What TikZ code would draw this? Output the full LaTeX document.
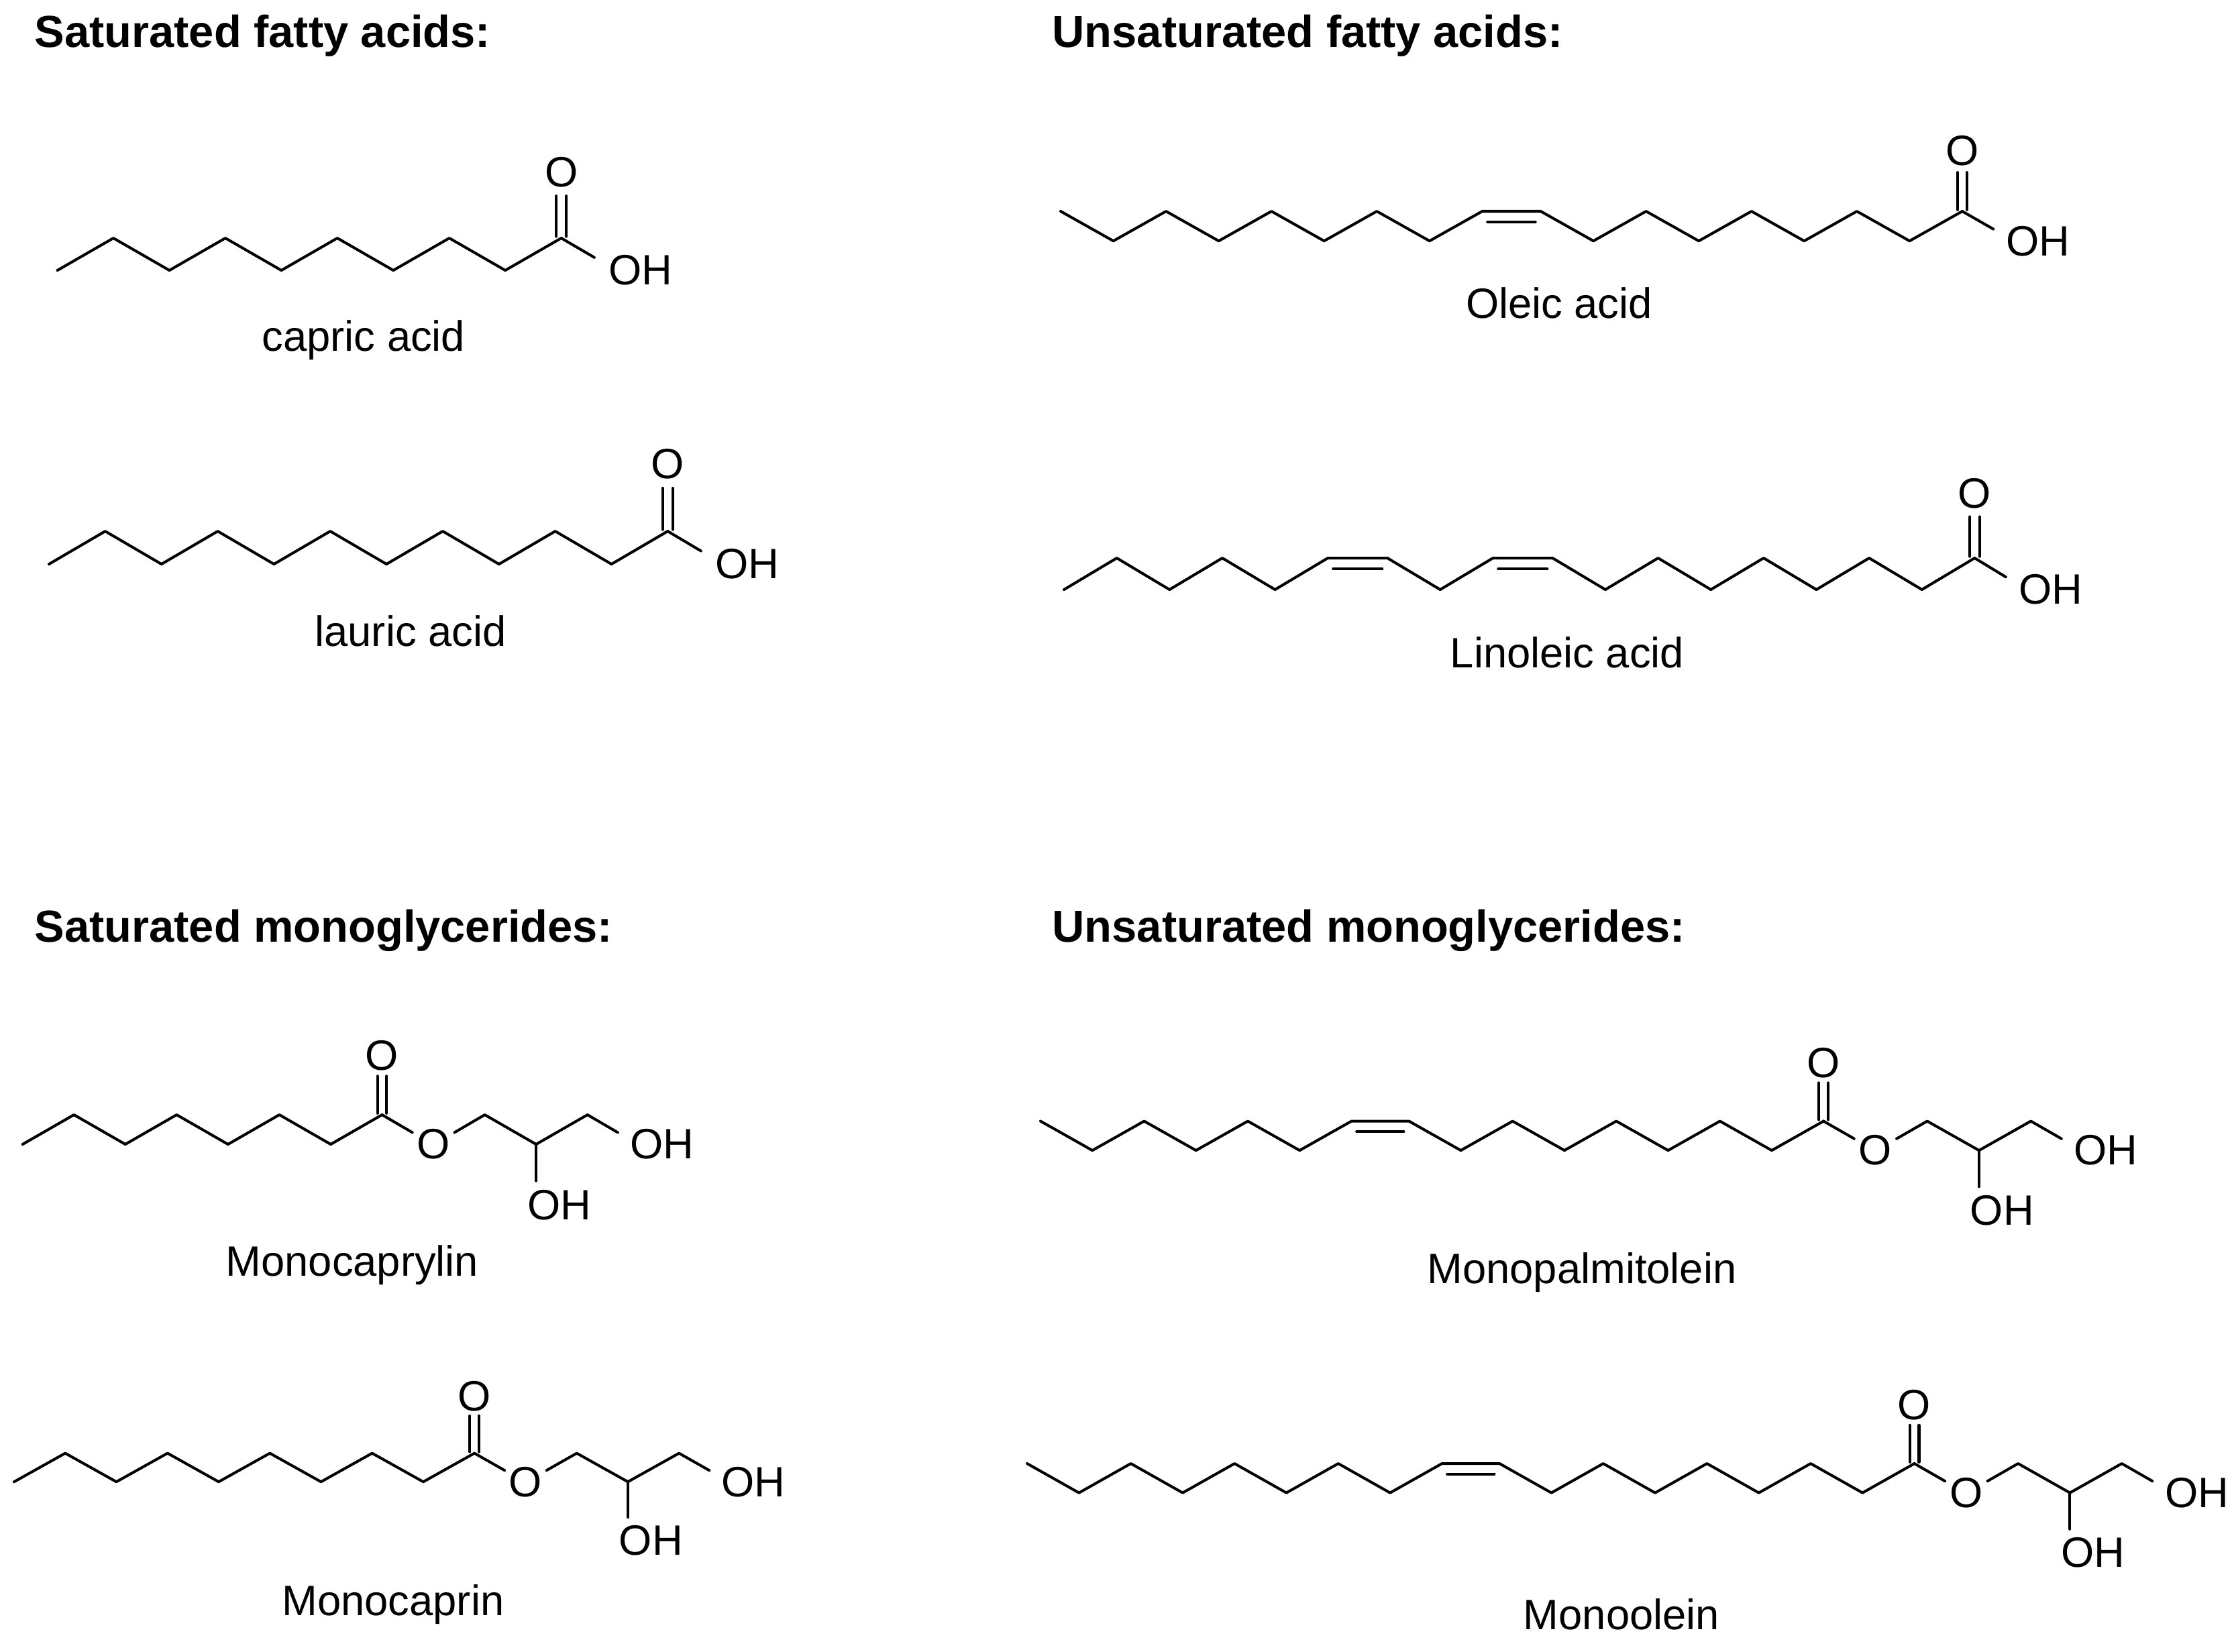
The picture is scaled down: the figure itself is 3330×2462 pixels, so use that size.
\documentclass[tikz,border=0pt]{standalone}
\usepackage{fontspec}
\setmainfont{Liberation Sans}
\usetikzlibrary{calc}
\tikzset{
  bond/.style={line width=1.15pt, line cap=round, line join=round},
  atom/.style={inner sep=0pt, font=\fontsize{18}{18}\selectfont},
  lbl/.style={inner sep=0pt, font=\fontsize{18}{18}\selectfont},
  hdr/.style={inner sep=0pt, anchor=west, font=\bfseries\fontsize{19}{19}\selectfont},
}
\newcommand\acidend{%
  \draw[bond] ($(c1)+(-0.09,0.05)$) -- ++(0,1.26);
  \draw[bond] ($(c1)+(0.09,0.05)$) -- ++(0,1.26);
  \node[atom] (o1) at ($(c1)+(0,2.05)$) {O};
  \draw[bond] (c1) -- ($(c1)+(0.59,-0.6)$);
  \node[atom,anchor=west,xshift=-0.389em] (oh1) at ($(c1)+(1,-1)$) {OH};}
\newcommand\esterend{%
  \draw[bond] ($(c1)+(-0.09,0.05)$) -- ++(0,1.26);
  \draw[bond] ($(c1)+(0.09,0.05)$) -- ++(0,1.26);
  \node[atom] (o1) at ($(c1)+(0,2.0)$) {O};
  \draw[bond] (c1) -- ($(c1)+(0.59,-0.6)$);
  \node[atom] (oe) at ($(c1)+(1,-1)$) {O};
  \draw[bond] ($(c1)+(1.41,-0.6)$) -- ($(c1)+(2,0)$) -- ($(c1)+(3,-1)$) -- ($(c1)+(4,0)$) -- ($(c1)+(4.59,-0.6)$);
  \node[atom,anchor=west,xshift=-0.389em] (oh1) at ($(c1)+(5,-1)$) {OH};
  \draw[bond] ($(c1)+(3,-1)$) -- ($(c1)+(3,-2.24)$);
  \node[atom,anchor=west,xshift=-0.389em] (oh2) at ($(c1)+(3,-3.05)$) {OH};}
\begin{document}
\begin{tikzpicture}[x=0.01cm,y=-0.01cm]
\useasboundingbox (0,0) rectangle (3330,2462);
\fill[white] (0,0) rectangle (3330,2462);
% headers
\node[hdr] (h1) at (51,53) {Saturated fatty acids:};
\node[hdr] (h2) at (1568,53) {Unsaturated fatty acids:};
\node[hdr] (h3) at (51,1387) {Saturated monoglycerides:};
\node[hdr] (h4) at (1568,1387) {Unsaturated monoglycerides:};
% capric acid
\begin{scope}[shift={(85.6,355)},x=0.834cm,y=0.48cm]
  \draw[bond] (0,-1) foreach \i in {1,...,9}{ -- (\i,{-mod(\i+1,2)}) } coordinate (c1);
  \acidend
\end{scope}
\node[lbl] (n1) at (542,507) {capric acid};
% lauric acid
\begin{scope}[shift={(73,792)},x=0.838cm,y=0.49cm]
  \draw[bond] (0,-1) foreach \i in {1,...,11}{ -- (\i,{-mod(\i+1,2)}) } coordinate (c1);
  \acidend
\end{scope}
\node[lbl] (n2) at (612,941) {lauric acid};
% oleic acid
\begin{scope}[shift={(1581,315)},x=0.785cm,y=0.442cm]
  \draw[bond] (0,0) foreach \i in {1,...,8}{ -- (\i,{-mod(\i,2)}) } coordinate (da)
     foreach \i in {9,...,17}{ -- ({\i+0.11},{-mod(\i+1,2)}) } coordinate (c1);
  \draw[bond] (8.1,-0.36) -- (9.01,-0.36);
  \acidend
\end{scope}
\node[lbl] (n3) at (2324,452) {Oleic acid};
% linoleic acid
\begin{scope}[shift={(1586,832)},x=0.786cm,y=0.47cm]
  \draw[bond] (0,-1) foreach \i in {1,...,5}{ -- (\i,{-mod(\i+1,2)}) }
     foreach \i in {6,...,8}{ -- ({\i+0.13},{-mod(\i,2)}) }
     foreach \i in {9,...,17}{ -- ({\i+0.26},{-mod(\i+1,2)}) } coordinate (c1);
  \draw[bond] (5.1,-0.34) -- (6.03,-0.34);
  \draw[bond] (8.23,-0.34) -- (9.16,-0.34);
  \acidend
\end{scope}
\node[lbl] (n4) at (2336,973) {Linoleic acid};
% monocaprylin
\begin{scope}[shift={(33.7,1662)},x=0.765cm,y=0.44cm]
  \draw[bond] (0,-1) foreach \i in {1,...,7}{ -- (\i,{-mod(\i+1,2)}) } coordinate (c1);
  \esterend
\end{scope}
\node[lbl] (n5) at (525,1886) {Monocaprylin};
% monocaprin
\begin{scope}[shift={(21,2166.6)},x=0.762cm,y=0.426cm]
  \draw[bond] (0,-1) foreach \i in {1,...,9}{ -- (\i,{-mod(\i+1,2)}) } coordinate (c1);
  \esterend
\end{scope}
\node[lbl] (n6) at (586,2392) {Monocaprin};
% monopalmitolein
\begin{scope}[shift={(1551,1671.5)},x=0.772cm,y=0.436cm]
  \draw[bond] (0,0) foreach \i in {1,...,6}{ -- (\i,{-mod(\i,2)}) }
     foreach \i in {7,...,15}{ -- ({\i+0.11},{-mod(\i+1,2)}) } coordinate (c1);
  \draw[bond] (6.1,-0.36) -- (7.01,-0.36);
  \esterend
\end{scope}
\node[lbl] (n7) at (2358,1897) {Monopalmitolein};
% monoolein
\begin{scope}[shift={(1531,2182)},x=0.7725cm,y=0.436cm]
  \draw[bond] (0,0) foreach \i in {1,...,8}{ -- (\i,{-mod(\i,2)}) }
     foreach \i in {9,...,17}{ -- ({\i+0.11},{-mod(\i+1,2)}) } coordinate (c1);
  \draw[bond] (8.1,-0.36) -- (9.01,-0.36);
  \esterend
\end{scope}
\node[lbl] (n8) at (2417,2407) {Monoolein};
\end{tikzpicture}
\end{document}
